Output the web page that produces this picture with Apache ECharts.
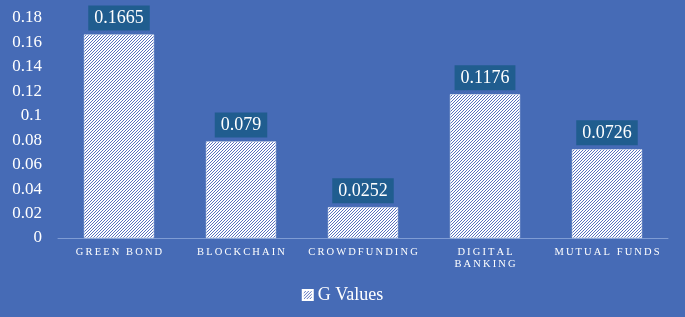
<!DOCTYPE html>
<html>
<head>
<meta charset="utf-8">
<script src="https://cdn.jsdelivr.net/npm/echarts@6/dist/echarts.min.js"></script>
<style>
	html, body { margin: 0; padding: 0; background: #466bb6; }
	#chart { width: 685px; height: 317px; }
</style>
</head>
<body>
<div id="chart"></div>
<script>
const categories = ['GREEN BOND', 'BLOCKCHAIN', 'CROWDFUNDING', 'DIGITAL\nBANKING', 'MUTUAL FUNDS'];
const gValues = [0.1665, 0.079, 0.0252, 0.1176, 0.0726];
const seriesName = 'G Values';

// diagonal hatch, thin blue "/" lines on white, drawn pixel by pixel
function hatch() {
	const n = 3;
	const c = document.createElement('canvas');
	c.width = n;
	c.height = n;
	const ctx = c.getContext('2d');
	const img = ctx.createImageData(n, n);
	for (let y = 0; y < n; y++) {
		for (let x = 0; x < n; x++) {
			const i = (y * n + x) * 4;
			const line = (x + y) % n === 0;
			img.data[i] = line ? 88 : 255;
			img.data[i + 1] = line ? 112 : 255;
			img.data[i + 2] = line ? 190 : 255;
			img.data[i + 3] = 255;
		}
	}
	ctx.putImageData(img, 0, 0);
	return c;
}

// spread letters like the small caps in the picture
const spaced = s => s.split('\n').map(l => l.split('').join('\u2009')).join('\n');

const chart = echarts.init(document.getElementById('chart'));
const serif = '"Liberation Serif", "DejaVu Serif", serif';

chart.setOption({
	backgroundColor: '#466bb6',
	animation: false,
	grid: { left: 58, right: 17, top: 18, bottom: 79 },
	legend: {
		bottom: 8,
		left: 'center',
		itemWidth: 10,
		itemHeight: 10,
		itemGap: 4,
		textStyle: { color: '#ffffff', fontFamily: serif, fontSize: 18 },
		data: [{ name: seriesName, icon: 'rect' }]
	},
	xAxis: {
		type: 'category',
		data: categories,
		axisLine: { lineStyle: { color: '#7f9cd4', width: 1 } },
		axisTick: { show: false },
		axisLabel: {
			color: '#ffffff',
			fontFamily: serif,
			fontSize: 10.5,
			lineHeight: 12,
			margin: 8,
			interval: 0,
			formatter: v => spaced(v)
		}
	},
	yAxis: {
		type: 'value',
		min: 0,
		max: 0.18,
		interval: 0.02,
		splitLine: { show: false },
		axisLine: { show: false },
		axisLabel: {
			color: '#ffffff',
			fontFamily: serif,
			fontSize: 17,
			margin: 16,
			formatter: v => String(Math.round(v * 100) / 100)
		}
	},
	series: [{
		name: seriesName,
		type: 'bar',
		data: gValues,
		barWidth: 70,
		itemStyle: {
			color: { image: hatch(), repeat: 'repeat' },
			borderColor: '#ffffff',
			borderWidth: 0.5
		},
		label: {
			show: true,
			position: 'top',
			distance: 4,
			color: '#ffffff',
			fontFamily: serif,
			fontSize: 18,
			backgroundColor: '#205d8f',
			padding: [4, 6, 3, 6]
		}
	}]
});
</script>
</body>
</html>
